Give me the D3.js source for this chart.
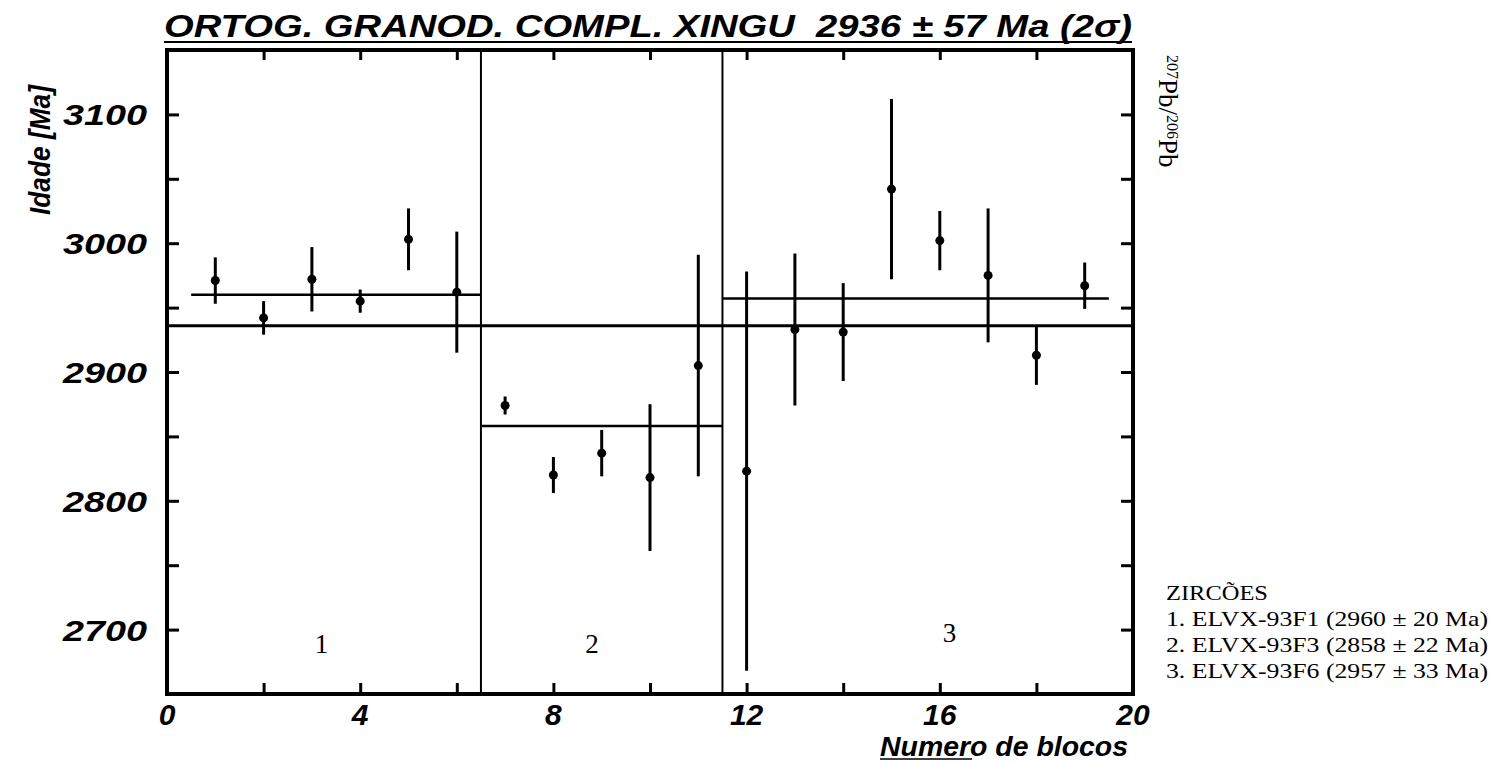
<!DOCTYPE html>
<html>
<head>
<meta charset="utf-8">
<script src="https://cdn.jsdelivr.net/npm/d3@7"></script>
<style>
  body { margin: 0; background: #fff; }
  text { white-space: pre; }
</style>
</head>
<body>
<script>

// idades 207Pb/206Pb por bloco
var blocos = [1, 2, 3, 4, 5, 6, 7, 8, 9, 10, 11, 12, 13, 14, 15, 16, 17, 18, 19];
var idades = [2971, 2942, 2972, 2955, 3003, 2962, 2874, 2820, 2837, 2818, 2905, 2823, 2933, 2931, 3042, 3002, 2975, 2913, 2967];
var erros  = [18, 13, 25, 9, 24, 47, 7, 14, 18, 57, 86, 155, 59, 38, 70, 23, 52, 23, 18];

// medias por zircao
var grupos      = ["1", "2", "3"];
var mediaGrupo  = [2960, 2858, 2957];
var grupoInicio = [0.5, 6.5, 11.5];
var grupoFim    = [6.5, 11.5, 19.5];
var grupoRotuloX = [3.2, 8.8, 16.2];
var divisores   = [6.5, 11.5];
var mediaGlobal = 2936;

var xTicks = [0, 2, 4, 6, 8, 10, 12, 14, 16, 18, 20];
var xRotulos = [0, 4, 8, 12, 16, 20];
var yTicks = [2650, 2700, 2750, 2800, 2850, 2900, 2950, 3000, 3050, 3100, 3150];
var yRotulos = [2700, 2800, 2900, 3000, 3100];

var legenda = [
  "ZIRCÕES",
  "1. ELVX-93F1 (2960 ± 20 Ma)",
  "2. ELVX-93F3 (2858 ± 22 Ma)",
  "3. ELVX-93F6 (2957 ± 33 Ma)"
];
var legendaLargura = [102, 322, 322, 322];


window.onload = function() {

var svg = d3.select("body").append("svg")
    .attr("width", 1491)
    .attr("height", 761);

var mLeft = 167, mRight = 1133, mTop = 50, mBottom = 694;

var x = d3.scaleLinear().domain([0, 20]).range([mLeft, mRight]);
var y = d3.scaleLinear().domain([2650, 3150]).range([mBottom, mTop]);

var sans = "'Liberation Sans', Arial, sans-serif";
var serif = "'Liberation Serif', 'Times New Roman', serif";


// ---- titulo
svg.append("text")
    .attr("x", 164).attr("y", 37)
    .attr("textLength", 968).attr("lengthAdjust", "spacingAndGlyphs")
    .style("font-family", sans).style("font-size", "31px")
    .style("font-weight", "bold").style("font-style", "italic")
    .text("ORTOG. GRANOD. COMPL. XINGU  2936 ± 57 Ma (2σ)");

svg.append("line")
    .attr("x1", 164).attr("x2", 1132)
    .attr("y1", 42).attr("y2", 42)
    .attr("stroke", "#000").attr("stroke-width", 2);


// ---- eixos (ticks para dentro)
var ax = svg.append("g");

ax.append("g")
    .attr("transform", "translate(0," + mBottom + ")")
    .call(d3.axisBottom(x).tickValues(xTicks).tickSize(-11).tickFormat(""));

ax.append("g")
    .attr("transform", "translate(0," + mTop + ")")
    .call(d3.axisTop(x).tickValues(xTicks).tickSize(-10).tickFormat(""));

ax.append("g")
    .attr("transform", "translate(" + mLeft + ",0)")
    .call(d3.axisLeft(y).tickValues(yTicks).tickSize(-12).tickFormat(""));

ax.append("g")
    .attr("transform", "translate(" + mRight + ",0)")
    .call(d3.axisRight(y).tickValues(yTicks).tickSize(-12).tickFormat(""));

ax.selectAll(".domain").remove();
ax.selectAll(".tick line").attr("stroke", "#000").attr("stroke-width", 3);

// moldura
svg.append("rect")
    .attr("x", mLeft).attr("y", mTop)
    .attr("width", mRight - mLeft).attr("height", mBottom - mTop)
    .attr("fill", "none").attr("stroke", "#000").attr("stroke-width", 4);


// rotulos y (largos, como no original)
svg.append("g").selectAll("text")
    .data(yRotulos).enter()
    .append("text")
        .attr("x", 147).attr("y", function(d) { return y(d) + 11; })
        .attr("text-anchor", "end")
        .attr("textLength", 84).attr("lengthAdjust", "spacingAndGlyphs")
        .style("font-family", sans).style("font-size", "30px")
        .style("font-weight", "bold").style("font-style", "italic")
        .text(function(d) { return d; });

// rotulos x
svg.append("g").selectAll("text")
    .data(xRotulos).enter()
    .append("text")
        .attr("x", function(d) { return x(d); }).attr("y", 725)
        .attr("text-anchor", "middle")
        .style("font-family", sans).style("font-size", "30px")
        .style("font-weight", "bold").style("font-style", "italic")
        .text(function(d) { return d; });

svg.append("text")
    .attr("x", 1128).attr("y", 756)
    .attr("text-anchor", "end")
    .attr("textLength", 248).attr("lengthAdjust", "spacingAndGlyphs")
    .style("font-family", sans).style("font-size", "27px")
    .style("font-weight", "bold").style("font-style", "italic")
    .text("Numero de blocos");

svg.append("line")
    .attr("x1", 880).attr("x2", 972)
    .attr("y1", 759).attr("y2", 759)
    .attr("stroke", "#000").attr("stroke-width", 1.5);

svg.append("text")
    .attr("transform", "translate(50,215) rotate(-90)")
    .attr("textLength", 130).attr("lengthAdjust", "spacingAndGlyphs")
    .style("font-family", sans).style("font-size", "29px")
    .style("font-weight", "bold").style("font-style", "italic")
    .text("Idade [Ma]");

// 207Pb/206Pb a direita
var pb = svg.append("text")
    .attr("transform", "translate(1159,55) rotate(90)")
    .style("font-family", serif).style("font-size", "27px");

pb.append("tspan").style("font-size", "16px").attr("baseline-shift", "super").text("207");
pb.append("tspan").text("Pb/");
pb.append("tspan").style("font-size", "16px").attr("baseline-shift", "super").text("206");
pb.append("tspan").text("Pb");


// ---- linhas de referencia
var plot = svg.append("g");

plot.selectAll(".divisor")
    .data(divisores).enter()
    .append("line")
        .attr("x1", function(d) { return x(d); })
        .attr("x2", function(d) { return x(d); })
        .attr("y1", mTop).attr("y2", mBottom)
        .attr("stroke", "#000").attr("stroke-width", 2);

plot.append("line")
    .attr("x1", x(0)).attr("x2", x(20))
    .attr("y1", y(mediaGlobal)).attr("y2", y(mediaGlobal))
    .attr("stroke", "#000").attr("stroke-width", 3);

plot.selectAll(".media")
    .data(grupos).enter()
    .append("line")
        .attr("x1", function(d, i) { return x(grupoInicio[i]); })
        .attr("x2", function(d, i) { return x(grupoFim[i]); })
        .attr("y1", function(d, i) { return y(mediaGrupo[i]); })
        .attr("y2", function(d, i) { return y(mediaGrupo[i]); })
        .attr("stroke", "#000").attr("stroke-width", 2.5);

plot.selectAll(".grupo")
    .data(grupos).enter()
    .append("text")
        .attr("x", function(d, i) { return x(grupoRotuloX[i]); })
        .attr("y", function(d, i) { return y(2682) + (i === 2 ? -11 : 0); })
        .attr("text-anchor", "middle")
        .style("font-family", serif).style("font-size", "27px")
        .text(function(d) { return d; });


// ---- pontos com barras de erro
plot.selectAll(".erro")
    .data(blocos).enter()
    .append("line")
        .attr("x1", function(d) { return x(d); })
        .attr("x2", function(d) { return x(d); })
        .attr("y1", function(d, i) { return y(idades[i] + erros[i]); })
        .attr("y2", function(d, i) { return y(idades[i] - erros[i]); })
        .attr("stroke", "#000").attr("stroke-width", 3);

plot.selectAll(".ponto")
    .data(blocos).enter()
    .append("circle")
        .attr("cx", function(d) { return x(d); })
        .attr("cy", function(d, i) { return y(idades[i]); })
        .attr("r", 4.5)
        .attr("fill", "#000");


// ---- legenda
svg.append("g").selectAll("text")
    .data(legenda).enter()
    .append("text")
        .attr("x", 1166)
        .attr("y", function(d, i) { return 600 + i * 26; })
        .attr("textLength", function(d, i) { return legendaLargura[i]; })
        .attr("lengthAdjust", "spacingAndGlyphs")
        .style("font-family", serif).style("font-size", "22px")
        .text(function(d) { return d; });

};

</script>
</body>
</html>
